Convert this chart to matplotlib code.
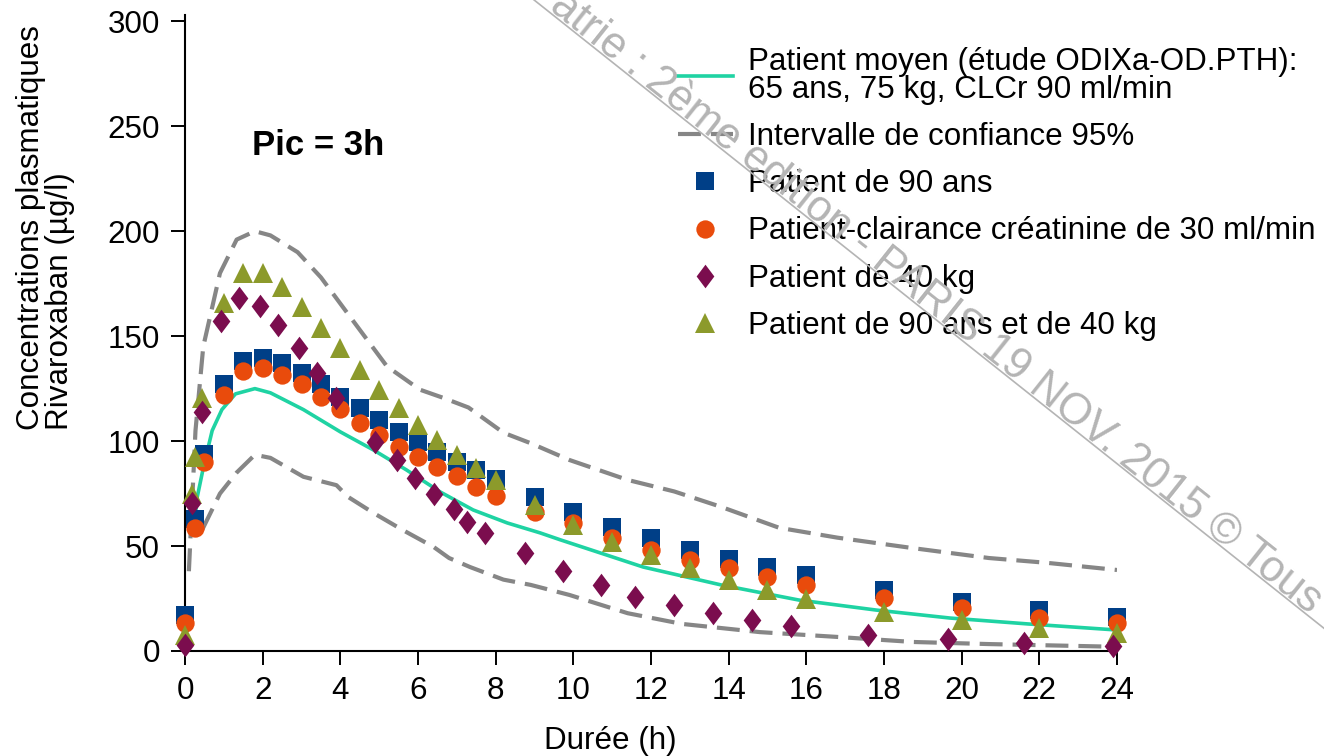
#!/usr/bin/env python3
"""Rivaroxaban plasma concentration profiles (mean patient + special populations)."""

import math

import matplotlib
matplotlib.use("Agg")
import matplotlib.pyplot as plt
from matplotlib.lines import Line2D
from matplotlib.path import Path

# ---- data ----
mean_t = [0.27, 0.3, 0.48, 0.7, 0.95, 1.3, 1.8, 2.2, 3.05, 4.0, 4.85, 5.7, 6.57,
          7.42, 8.3, 9.14, 9.66, 11.8, 13.8, 15.8, 17.8, 19.7, 21.7, 24]
mean_c = [64, 72, 88, 105, 115, 122.5, 125, 123, 115, 104.4, 95.8, 86.3, 75.8,
          67.2, 61, 56.3, 53, 40, 31.5, 24.3, 19.5, 15.7, 12.9, 10]

ci_hi_t = [0.1, 0.27, 0.47, 0.9, 1.33, 1.8, 2.2, 2.9, 3.5, 4.3, 5.2, 6.05, 6.65,
           7.3, 8.2, 8.9, 9.9, 11.4, 12.6, 13.8, 15.3, 16.8, 18.75, 20.7, 22.2, 24]
ci_hi_c = [38, 105, 145, 180, 196, 200, 198, 190, 178, 158, 135.6, 124.5, 120.6,
           116, 104, 99, 91, 81.5, 76, 68.7, 58.7, 54, 49, 44.3, 42, 38.6]

ci_lo_t = [0.45, 0.9, 1.33, 1.8, 2.2, 3.05, 3.9, 4.2, 4.85, 5.6, 6.4, 6.8, 7.34,
           8.2, 8.9, 9.9, 11.4, 12.8, 14.8, 16.8, 18.75, 20.7, 24]
ci_lo_c = [58, 75, 85, 93.5, 92, 83, 79, 73.4, 65.8, 57.7, 49.6, 44.3, 40,
           34, 31.5, 26.7, 18, 12.9, 9, 6.7, 4.3, 3.3, 2]

sample_t = [0, 0.25, 0.5, 1, 1.5, 2, 2.5, 3, 3.5, 4, 4.5, 5, 5.5, 6, 6.5, 7, 7.5,
            8, 9, 10, 11, 12, 13, 14, 15, 16, 18, 20, 22, 24]
age90_c = [17, 63, 94, 127, 138, 139.5, 137, 132.5, 127, 121, 116, 110, 104.5,
           99.7, 95, 90, 86, 82, 73.4, 66, 59, 54, 48, 44, 40, 36, 29, 23.4, 19.5, 16]
clcr30_c = [13.3, 58.6, 90, 122, 133.5, 135, 131.6, 127, 121, 115.4, 108.7, 103,
            97.4, 92.6, 87.7, 83.5, 78, 74, 66, 61, 54, 48, 43.4, 39.4, 35.4, 31.5,
            25.2, 20.5, 15.7, 13.3]

kg40_t = [0, 0.18, 0.45, 0.93, 1.4, 1.93, 2.4, 2.94, 3.4, 3.9, 4.9, 5.45, 5.92,
          6.42, 6.92, 7.25, 7.73, 8.75, 9.73, 10.7, 11.6, 12.6, 13.6, 14.6, 15.6,
          17.6, 19.65, 21.6, 23.9]
kg40_c = [3, 70.6, 114, 157, 168, 164.5, 155.5, 144.5, 132.6, 120.3, 99.5, 91,
          82.5, 75, 67.7, 61.5, 56, 46.7, 38, 31.5, 25.8, 22, 18, 14.8, 11.9, 7.6,
          5.7, 3.8, 2.4]

both_t = [0, 0.18, 0.25, 0.45, 1, 1.5, 2, 2.5, 3, 3.5, 4, 4.5, 5, 5.5, 6, 6.5, 7,
          7.5, 8, 9, 10, 11, 12, 13, 14, 15, 16, 18, 20, 22, 24]
both_c = [7.6, 75, 92.6, 120.6, 166, 180, 180, 173.6, 164, 154, 144.5, 134, 124.5,
          116, 107.8, 100.6, 93.5, 87, 81.5, 69.6, 60, 52, 45.8, 39.6, 33.9, 29, 25,
          18.8, 14.8, 10.9, 8.5]

labels = [
    "Patient moyen (étude ODIXa-OD.PTH):\n65 ans, 75 kg, CLCr 90 ml/min",
    "Intervalle de confiance 95%",
    "Patient de 90 ans",
    "Patient-clairance créatinine de 30 ml/min",
    "Patient de 40 kg",
    "Patient de 90 ans et de 40 kg",
]
x_ticks = list(range(0, 25, 2))
y_ticks = [0, 50, 100, 150, 200, 250, 300]

COLORS = {
    "mean": "#1fd3a3",
    "ci": "#868686",
    "age90": "#003f87",
    "clcr30": "#e94b0c",
    "kg40": "#7b0d4e",
    "both": "#8c9a2b",
    "mark": "#b4b4b4",
}

FS = 22.6
W, H = 1324, 756
plt.rcParams.update({
    "font.family": ["Liberation Sans", "DejaVu Sans"],
    "font.size": FS,
})

fig = plt.figure(figsize=(W / 100, H / 100), dpi=100)
ax = fig.add_axes([185 / W, 1 - 651 / H, 932 / W, (651 - 15) / H])

ci_style = dict(color=COLORS["ci"], lw=3.0, linestyle=(0, (5.5, 2.4)), zorder=2)
h_ci, = ax.plot(ci_hi_t, ci_hi_c, **ci_style)
ax.plot(ci_lo_t, ci_lo_c, **ci_style)
h_mean, = ax.plot(mean_t, mean_c, color=COLORS["mean"], lw=2.6, zorder=3)

diamond = Path([(0, 1), (0.75, 0), (0, -1), (-0.75, 0), (0, 1)],
               [Path.MOVETO, Path.LINETO, Path.LINETO, Path.LINETO, Path.CLOSEPOLY])
mk = dict(linestyle="none", markeredgewidth=0, zorder=4)
h_sq, = ax.plot(sample_t, age90_c, marker="s", ms=13.2, color=COLORS["age90"], **mk)
h_ci30, = ax.plot(sample_t, clcr30_c, marker="o", ms=13.2, color=COLORS["clcr30"], **mk)
h_tri, = ax.plot(both_t, both_c, marker="^", ms=14, color=COLORS["both"], **mk)
h_dia, = ax.plot(kg40_t, kg40_c, marker=diamond, ms=17, color=COLORS["kg40"], **mk)
for h in (h_sq, h_ci30, h_tri, h_dia):
    h.set_clip_on(False)

ax.set_xlim(0, 24)
ax.set_ylim(0, 303)
ax.set_xticks(x_ticks)
ax.set_yticks(y_ticks)
for side in ("top", "right"):
    ax.spines[side].set_visible(False)
for side in ("left", "bottom"):
    ax.spines[side].set_linewidth(1.5)
ax.tick_params(axis="both", length=10, width=1.4, pad=8, labelsize=FS)

ax.set_xlabel("Durée (h)", fontsize=FS)
ax.xaxis.set_label_coords(0.456, -0.118)
ax.set_ylabel("Concentrations plasmatiques\nRivaroxaban (µg/l)", fontsize=FS,
              multialignment="left", linespacing=0.95)
ax.yaxis.set_label_coords(-0.118, 0.666)

ax.text(1.73, 241, "Pic = 3h", fontsize=25, weight="bold", ha="left", va="center")

leg = ax.legend(
    [h_mean, h_ci, h_sq, h_ci30, h_dia, h_tri], labels,
    loc="upper left", bbox_to_anchor=(678 / W, 1 - 47 / H),
    bbox_transform=fig.transFigure, frameon=False, fontsize=FS,
    handlelength=1.75, handletextpad=0.48, labelspacing=0.55,
    borderpad=0, borderaxespad=0, numpoints=1,
)
for t in leg.get_texts():
    t.set_linespacing(0.9)

# watermark of the source document (diagonal, underlined)
ang = 38.5
ux, uy = math.cos(math.radians(ang)), math.sin(math.radians(ang))
x0, y0 = 555, 0
fig.text(x0 / W, 1 - y0 / H, "atrie : 2ème edition - PARIS 19 NOV. 2015 © Tous",
         rotation=-ang, rotation_mode="anchor", ha="left", va="center",
         fontsize=31.5, color=COLORS["mark"], zorder=10)
d = 13
bx, by = x0 + 10 * ux - d * uy, y0 + 10 * uy + d * ux
p0 = (bx - 40 * ux, by - 40 * uy)
p1 = (bx + 1100 * ux, by + 1100 * uy)
fig.add_artist(Line2D([p0[0] / W, p1[0] / W], [1 - p0[1] / H, 1 - p1[1] / H],
                      transform=fig.transFigure, color=COLORS["mark"], lw=1.2, zorder=10))

fig.savefig("out.png", dpi=100)
